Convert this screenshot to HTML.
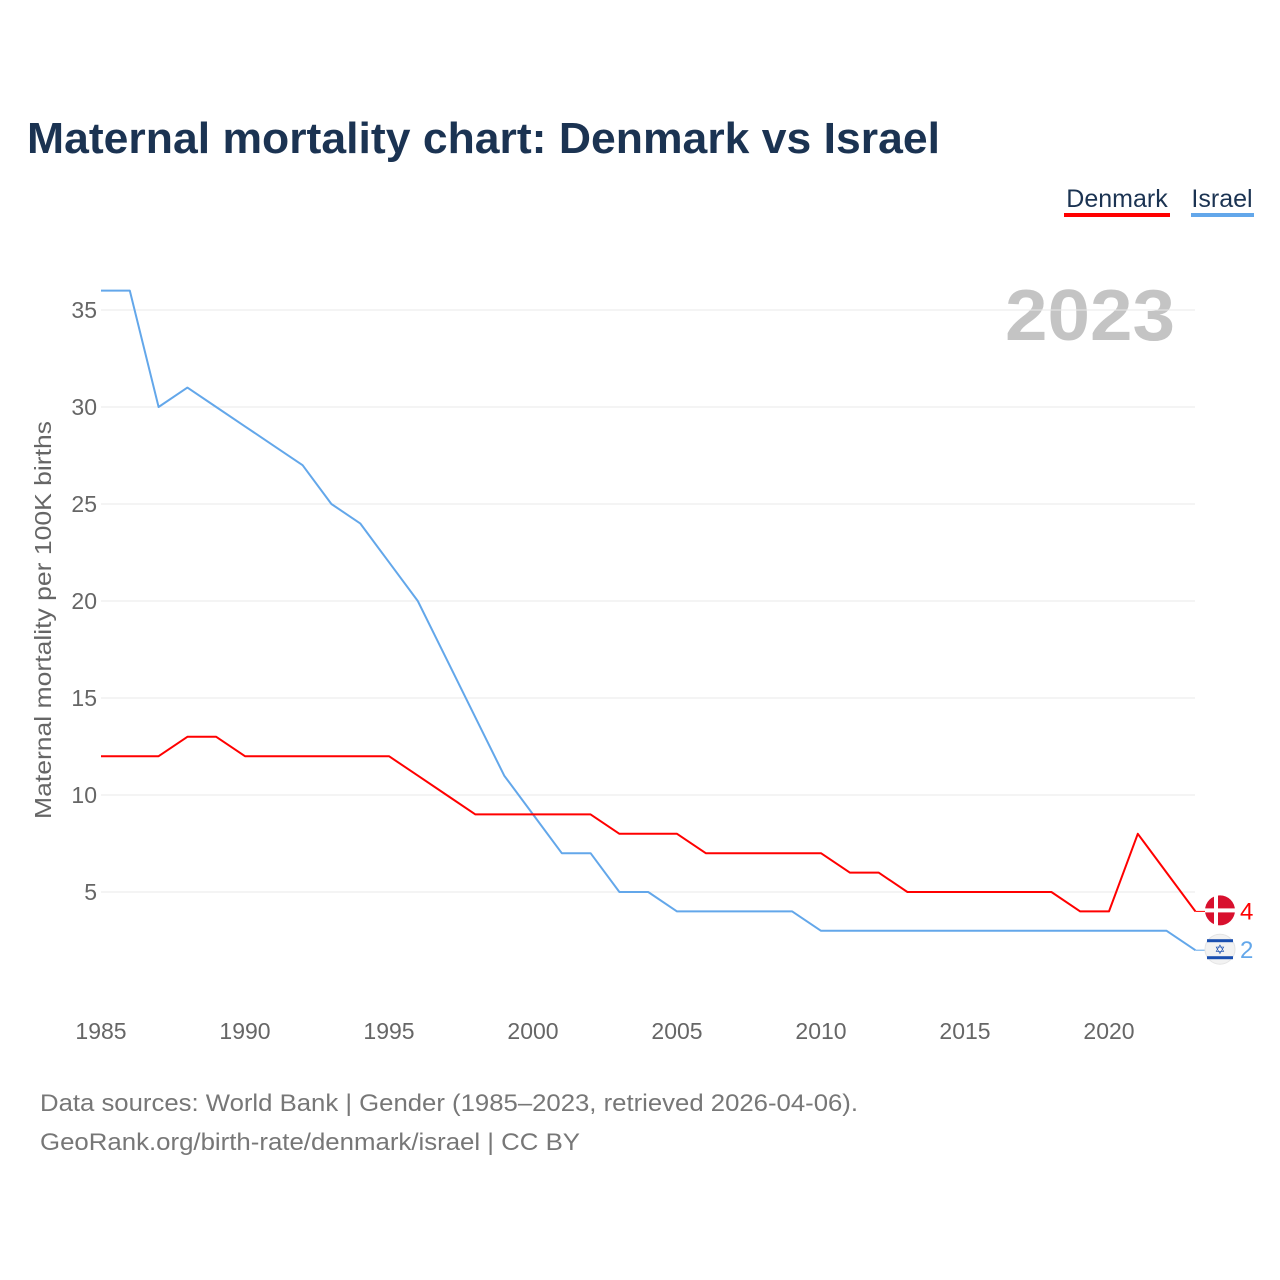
<!DOCTYPE html>
<html><head><meta charset="utf-8">
<style>
html,body{margin:0;padding:0;background:#fff;width:1280px;height:1280px;overflow:hidden}
svg{display:block;font-family:"Liberation Sans",sans-serif}
</style></head>
<body>
<svg id="chart" width="1280" height="1280" viewBox="0 0 1280 1280" xmlns="http://www.w3.org/2000/svg">
<text x="27" y="153" font-size="44" font-weight="bold" fill="#1b3352" textLength="913" lengthAdjust="spacingAndGlyphs">Maternal mortality chart: Denmark vs Israel</text>
<g>
<text x="1117" y="207" font-size="25" fill="#1b3352" text-anchor="middle">Denmark</text>
<rect x="1064" y="213" width="106" height="4" fill="#ff0000"/>
</g>
<g>
<text x="1222" y="207" font-size="25" fill="#1b3352" text-anchor="middle">Israel</text>
<rect x="1191" y="213" width="63" height="4" fill="#63a7ea"/>
</g>
<text x="1175" y="340" font-size="72" font-weight="bold" fill="#c4c4c4" text-anchor="end" textLength="170" lengthAdjust="spacingAndGlyphs">2023</text>
<text transform="translate(51,620) rotate(-90)" font-size="23" fill="#666" text-anchor="middle" textLength="398" lengthAdjust="spacingAndGlyphs">Maternal mortality per 100K births</text>
<g id="grid"></g><g id="series"></g><g id="ends"></g>
<text x="40" y="1111" font-size="24" fill="#777" textLength="818" lengthAdjust="spacingAndGlyphs">Data sources: World Bank | Gender (1985–2023, retrieved 2026-04-06).</text>
<text x="40" y="1150" font-size="24" fill="#777" textLength="540" lengthAdjust="spacingAndGlyphs">GeoRank.org/birth-rate/denmark/israel | CC BY</text>
</svg>
<script>
const years = [];
for (let y = 1985; y <= 2023; y++) years.push(y);
const denmark = [12,12,12,13,13,12,12,12,12,12,12,11,10,9,9,9,9,9,8,8,8,7,7,7,7,7,6,6,5,5,5,5,5,5,4,4,8,6,4];
const israel = [36,36,30,31,30,29,28,27,25,24,22,20,17,14,11,9,7,7,5,5,4,4,4,4,4,3,3,3,3,3,3,3,3,3,3,3,3,3,2];
const yTicks = [5,10,15,20,25,30,35];
const xTicks = [1985,1990,1995,2000,2005,2010,2015,2020];
const NS = "http://www.w3.org/2000/svg";
const x = v => 101 + (v - 1985) * 28.8;
const y = v => 989 - v * 19.4;
function mk(tag, attrs, parent) {
  const e = document.createElementNS(NS, tag);
  for (const k in attrs) e.setAttribute(k, attrs[k]);
  parent.appendChild(e); return e;
}
const grid = document.getElementById('grid');
yTicks.forEach(t => {
  const l = mk('line', {x1: 101, x2: 1195, y1: y(t), y2: y(t), stroke: '#e8e8e8', 'stroke-width': 1}, grid);
  
  
  const tx = mk('text', {x: 97, y: y(t) + 8, 'font-size': 23, fill: '#666', 'text-anchor': 'end'}, grid);
  tx.textContent = t;
  
  
});
xTicks.forEach(t => {
  const tx = mk('text', {x: x(t), y: 1039, 'font-size': 23, fill: '#666', 'text-anchor': 'middle'}, grid);
  tx.textContent = t;
  
  
});
const series = document.getElementById('series');
function line(vals, color, name) {
  const p = mk('polyline', {points: vals.map((v, i) => x(years[i]) + ',' + y(v)).join(' '), fill: 'none', stroke: color, 'stroke-width': 2, 'stroke-linejoin': 'round'}, series);
  
  
}
line(israel, '#63a7ea', 'israel-line');
line(denmark, '#ff0000', 'denmark-line');
const ends = document.getElementById('ends');
const lastIdx = years.length - 1;
{
  const cy = y(denmark[lastIdx]) - 1, cx = 1220;
  const g = mk('g', {}, ends);
  
  
  mk('line', {x1: x(2023), x2: cx - 14, y1: y(denmark[lastIdx]), y2: y(denmark[lastIdx]), stroke: '#ff0000', 'stroke-width': 1}, g);
  mk('circle', {cx: cx, cy: cy, r: 15, fill: '#d8102e'}, g);
  mk('rect', {x: cx - 6, y: cy - 15, width: 4, height: 30, fill: '#fff'}, g);
  mk('rect', {x: cx - 15, y: cy - 2, width: 30, height: 4, fill: '#fff'}, g);
  const t = mk('text', {x: 1240, y: cy + 9, 'font-size': 24, fill: '#ff0000'}, g);
  t.textContent = denmark[lastIdx];
}
{
  const cy = y(israel[lastIdx]) - 1, cx = 1220;
  const g = mk('g', {}, ends);
  
  
  mk('line', {x1: x(2023), x2: cx - 14, y1: y(israel[lastIdx]), y2: y(israel[lastIdx]), stroke: '#63a7ea', 'stroke-width': 1}, g);
  mk('circle', {cx: cx, cy: cy, r: 15, fill: '#f2f2f2', stroke: '#e4e4e4', 'stroke-width': 1}, g);
  mk('rect', {x: cx - 13, y: cy - 10, width: 26, height: 3, fill: '#1a4fb0'}, g);
  mk('rect', {x: cx - 13, y: cy + 7, width: 26, height: 3, fill: '#1a4fb0'}, g);
  const s = mk('text', {x: cx, y: cy + 5, 'font-size': 13, fill: '#1a4fb0', 'text-anchor': 'middle'}, g);
  s.textContent = '✡';
  const t = mk('text', {x: 1240, y: cy + 9, 'font-size': 24, fill: '#63a7ea'}, g);
  t.textContent = israel[lastIdx];
}
</script>
</body></html>
